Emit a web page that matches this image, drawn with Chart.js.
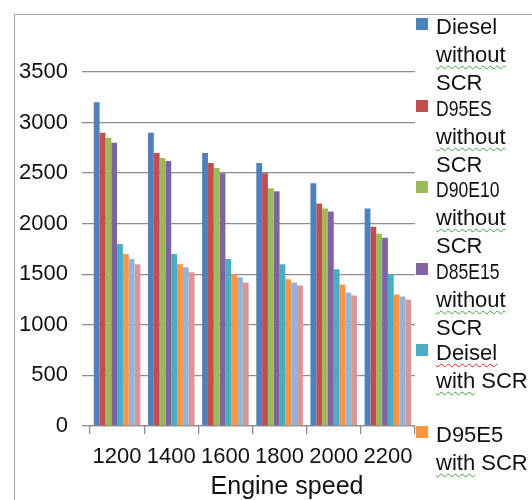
<!DOCTYPE html>
<html>
<head>
<meta charset="utf-8">
<script src="https://cdn.jsdelivr.net/npm/chart.js@4.4.0/dist/chart.umd.min.js"></script>
<style>
  html, body { margin: 0; padding: 0; background: #fff; width: 532px; height: 500px; overflow: hidden; }
  #frame { position: absolute; left: 14px; top: 14px; width: 600px; height: 600px;
           border-left: 1.5px solid #a6a6a6; border-top: 1.5px solid #a6a6a6; }
  #wrap { position: absolute; left: 0; top: 0; width: 532px; height: 500px; }
  #legend { position: absolute; left: 416px; top: 13px; font-family: "Liberation Sans", Arial, sans-serif;
            font-size: 22px; color: #111; }
  .item { position: relative; height: 81.5px; }
  .mk { position: absolute; left: 0; top: 5px; width: 12px; height: 12px; }
  .txt { position: absolute; left: 20px; top: 0; line-height: 28px; white-space: nowrap; }
  .narrow { display: inline-block; transform: scaleX(0.8); transform-origin: left center; }
  .sg { text-decoration: underline wavy #3aa83a; text-decoration-thickness: 1px; text-underline-offset: 3px; }
  .sr { text-decoration: underline wavy #e02020; text-decoration-thickness: 1px; text-underline-offset: 3px; }
  #xtitle { position: absolute; left: 287px; top: 471px; transform: translateX(-50%);
            font-family: "Liberation Sans", Arial, sans-serif; font-size: 25px; color: #111; white-space: nowrap; }
</style>
</head>
<body>
<div id="frame"></div>
<div id="wrap"><canvas id="c" width="532" height="500"></canvas></div>
<div id="legend"></div>
<div id="xtitle">Engine speed</div>
<script>
const categories = ['1200', '1400', '1600', '1800', '2000', '2200'];
const dieselNoScr = [3200, 2900, 2700, 2600, 2400, 2150];
const d95e5NoScr  = [2900, 2700, 2600, 2500, 2200, 1970];
const d90e10NoScr = [2850, 2650, 2550, 2350, 2150, 1900];
const d85e15NoScr = [2800, 2620, 2500, 2320, 2120, 1860];
const dieselScr   = [1800, 1700, 1650, 1600, 1550, 1500];
const d95e5Scr    = [1700, 1600, 1500, 1450, 1400, 1300];
const d90e10Scr   = [1650, 1570, 1470, 1420, 1320, 1280];
const d85e15Scr   = [1600, 1520, 1420, 1390, 1290, 1250];
const seriesNames = ['Diesel without SCR', 'D95ES without SCR', 'D90E10 without SCR', 'D85E15 without SCR',
                     'Deisel with SCR', 'D95E5 with SCR', 'D90E10 with SCR', 'D85E15 with SCR'];
const yMin = 0, yMax = 3500, yStep = 500;
const xTitle = 'Engine speed';

const colors = ['#4F81BD', '#C0504D', '#9BBB59', '#8064A2', '#4BACC6', '#F79646', '#95B3D7', '#D99694'];
const values = [dieselNoScr, d95e5NoScr, d90e10NoScr, d85e15NoScr, dieselScr, d95e5Scr, d90e10Scr, d85e15Scr];

// HTML legend (multi-line labels)
const legendHtml = [
  ['Diesel', '<span class="sg">without</span>', 'SCR'],
  ['<span class="narrow">D95ES</span>', '<span class="sg">without</span>', 'SCR'],
  ['<span class="narrow">D90E10</span>', '<span class="sg">without</span>', 'SCR'],
  ['<span class="narrow">D85E15</span>', '<span class="sg">without</span>', 'SCR'],
  ['<span class="sr">Deisel</span>', '<span class="sg">with</span> SCR'],
  ['D95E5', '<span class="sg">with</span> SCR'],
  ['D90E10', '<span class="sg">with</span> SCR'],
  ['D85E15', '<span class="sg">with</span> SCR']
];
const lg = document.getElementById('legend');
legendHtml.forEach((lines, i) => {
  const it = document.createElement('div');
  it.className = 'item';
  it.innerHTML = '<div class="mk" style="background:' + colors[i] + '"></div><div class="txt">' + lines.join('<br>') + '</div>';
  lg.appendChild(it);
});
document.getElementById('xtitle').textContent = xTitle;

const tickFont = { family: '"Liberation Sans", Arial, sans-serif', size: 22 };

new Chart(document.getElementById('c'), {
  type: 'bar',
  data: {
    labels: categories,
    datasets: values.map((v, i) => ({
      label: seriesNames[i],
      data: v,
      backgroundColor: colors[i],
      borderWidth: 0,
      barPercentage: 1.0,
      categoryPercentage: 0.86
    }))
  },
  options: {
    responsive: false,
    animation: false,
    devicePixelRatio: 1,
    layout: { padding: { left: 0, top: 72, right: 117, bottom: 0 } },
    plugins: { legend: { display: false }, tooltip: { enabled: false }, title: { display: false } },
    scales: {
      x: {
        grid: { display: true, drawOnChartArea: false, drawTicks: true, tickLength: 8, color: '#8c8c8c', lineWidth: 1.3, offset: true },
        border: { display: true, color: '#8c8c8c', width: 1.3 },
        ticks: { font: tickFont, color: '#111', padding: 10, maxRotation: 0, autoSkip: false },
        afterFit: s => { s.height = 74; }
      },
      y: {
        min: yMin, max: yMax,
        grid: { color: '#8c8c8c', lineWidth: 1.3, tickLength: 8 },
        border: { display: false },
        ticks: { stepSize: yStep, font: tickFont, color: '#111', padding: 14, callback: v => String(v) },
        afterFit: s => { s.width = 90; }
      }
    }
  }
});
</script>
</body>
</html>
